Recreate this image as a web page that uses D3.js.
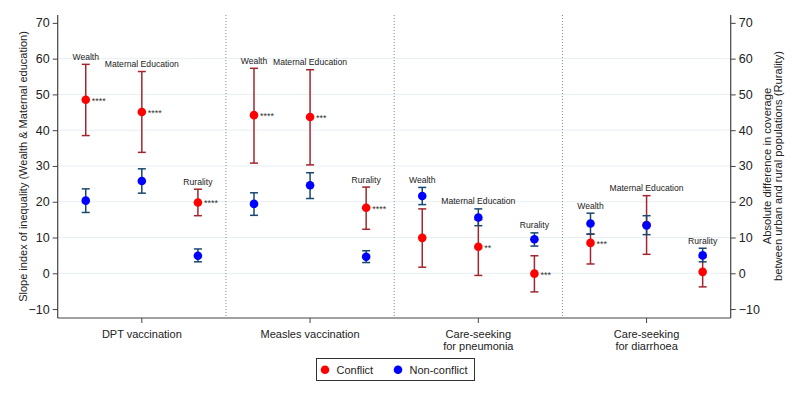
<!DOCTYPE html>
<html><head><meta charset="utf-8">
<script src="https://cdn.jsdelivr.net/npm/d3@7"></script>
<style>body{margin:0;background:#fff}svg{display:block;font-family:"Liberation Sans",Arial,sans-serif}</style>
</head><body><svg id="c" width="800" height="400"></svg>
<script>
const outcomes = ["DPT vaccination","Measles vaccination","Care-seeking\nfor pneumonia","Care-seeking\nfor diarrhoea"];
const dims = ["Wealth","Maternal Education","Rurality"];
// [outcome][dimension] point, lower, upper
const conflictEst = [[48.5,45.1,19.8],[44.2,43.7,18.3],[9.9,7.4,-0.1],[8.5,13.5,0.4]];
const conflictLo  = [[38.5,33.8,16.1],[30.8,30.3,12.3],[1.7,-0.6,-5.2],[2.6,5.3,-3.8]];
const conflictHi  = [[58.4,56.4,23.5],[57.3,56.9,24.1],[18.0,15.0,4.9],[11.0,21.7,4.5]];
const nonEst = [[20.3,25.8,4.9],[19.4,24.6,4.6],[21.6,15.6,9.5],[13.9,13.4,5.0]];
const nonLo  = [[17.0,22.4,3.2],[16.2,20.9,3.0],[19.2,13.3,7.6],[10.9,10.8,3.2]];
const nonHi  = [[23.6,29.2,6.8],[22.5,28.1,6.3],[24.0,18.0,11.3],[16.8,16.1,7.0]];
const stars = [["****","****","****"],["****","***","****"],["","**","***"],["***","",""]];
const yTicks = [-10,0,10,20,30,40,50,60,70];
const legendLabels = ["Conflict","Non-conflict"];

const svg = d3.select("#c");
const L=57.7, R=730.7, T=15, B=318;
const x = d3.scaleBand().domain(outcomes).range([L,R]).padding(0);
const sub = d3.scalePoint().domain(dims).range([1/6,5/6]);
const y = d3.scaleLinear().domain([-12.5,72.2]).range([B,T]);
const px = (o,d)=> x(outcomes[o]) + x.bandwidth()*sub(dims[d]);

// gridlines
svg.append("g").selectAll("line").data(yTicks.filter(v=>v>=0 && v<=60)).join("line")
  .attr("x1",L).attr("x2",R).attr("y1",d=>y(d)).attr("y2",d=>y(d))
  .attr("stroke","#e6eff3").attr("stroke-width",1);
// dividers
svg.append("g").selectAll("line").data(outcomes.slice(1)).join("line")
  .attr("x1",d=>x(d)).attr("x2",d=>x(d)).attr("y1",T).attr("y2",B)
  .attr("stroke","#888").attr("stroke-dasharray","1,2").attr("stroke-width",1);

// axes
const yl = svg.append("g").attr("transform",`translate(${L},0)`).call(d3.axisLeft(y).tickValues(yTicks).tickSize(5).tickPadding(3));
const yr = svg.append("g").attr("transform",`translate(${R},0)`).call(d3.axisRight(y).tickValues(yTicks).tickSize(5).tickPadding(3));
const xa = svg.append("g").attr("transform",`translate(0,${B})`).call(d3.axisBottom(x).tickSize(5).tickFormat(""));
[yl,yr,xa].forEach(g=>{
  g.select(".domain").attr("stroke","#444").attr("stroke-width",1.2);
  g.selectAll(".tick line").attr("stroke","#444");
  g.selectAll("text").attr("font-size",12.5).attr("fill","#222").attr("font-family","Liberation Sans, Arial, sans-serif");
});
yl.select(".domain").attr("d",`M-0,${T}V${B}`);
yr.select(".domain").attr("d",`M0,${T}V${B}`);
xa.select(".domain").attr("d",`M${L},0H${R}`);

// x labels
const xl = svg.append("g");
outcomes.forEach(o=>{
  o.split("\n").forEach((l,i)=>{
    xl.append("text").attr("x",x(o)+x.bandwidth()/2).attr("y",337.7+i*12.5).attr("text-anchor","middle")
      .attr("font-size",11).attr("fill","#222").text(l);
  });
});

// axis titles
svg.append("text").attr("transform",`translate(26.5,166.5) rotate(-90)`).attr("text-anchor","middle")
  .attr("font-size",11).attr("fill","#222").text("Slope index of inequality (Wealth & Maternal education)");
const rt = svg.append("g").attr("transform",`translate(770.5,166) rotate(-90)`);
["Absolute difference in coverage","between urban and rural populations (Rurality)"].forEach((t,i)=>
  rt.append("text").attr("x",0).attr("y",i*11.8).attr("text-anchor","middle").attr("font-size",11.2).attr("fill","#222").text(t));

const series = [
  {est:conflictEst,lo:conflictLo,hi:conflictHi,pt:"#ff0000",ci:"#a3262e"},
  {est:nonEst,lo:nonLo,hi:nonHi,pt:"#0000ff",ci:"#1a476f"}
];
const cap=4, r=4.3;
series.forEach(s=>{
  const g=svg.append("g");
  const data=[];
  s.est.forEach((row,o)=>row.forEach((v,d)=>data.push({o,d,v,lo:s.lo[o][d],hi:s.hi[o][d]})));
  g.selectAll(".v").data(data).join("line").attr("x1",d=>px(d.o,d.d)).attr("x2",d=>px(d.o,d.d))
    .attr("y1",d=>y(d.lo)).attr("y2",d=>y(d.hi)).attr("stroke",s.ci).attr("stroke-width",1.5);
  ["lo","hi"].forEach(k=>g.selectAll(".c"+k).data(data).join("line")
    .attr("x1",d=>px(d.o,d.d)-cap).attr("x2",d=>px(d.o,d.d)+cap)
    .attr("y1",d=>y(d[k])).attr("y2",d=>y(d[k])).attr("stroke",s.ci).attr("stroke-width",1.5));
  g.selectAll("circle").data(data).join("circle").attr("cx",d=>px(d.o,d.d)).attr("cy",d=>y(d.v))
    .attr("r",r).attr("fill",s.pt);
});

// stars
const sd=[];
stars.forEach((row,o)=>row.forEach((s,d)=>{ if(s) sd.push({o,d,s}); }));
svg.append("g").selectAll("text").data(sd).join("text")
  .attr("x",d=>px(d.o,d.d)+6).attr("y",d=>y(conflictEst[d.o][d.d])+4)
  .attr("font-size",9).attr("fill","#333").text(d=>d.s);

// dimension labels above highest CI
const ld=[];
outcomes.forEach((o,oi)=>dims.forEach((dm,di)=>ld.push({oi,di,top:Math.max(conflictHi[oi][di],nonHi[oi][di])})));
svg.append("g").selectAll("text").data(ld).join("text")
  .attr("x",d=>px(d.oi,d.di)).attr("y",d=>y(d.top)-4.5).attr("text-anchor","middle")
  .attr("font-size",8.6).attr("fill","#222").text(d=>dims[d.di]);

// legend
const lg=svg.append("g");
lg.append("rect").attr("x",316.5).attr("y",358.5).attr("width",158).attr("height",22)
  .attr("fill","#fff").attr("stroke","#333").attr("stroke-width",1);
legendLabels.forEach((t,i)=>{
  const cx=[325,398][i];
  lg.append("circle").attr("cx",cx).attr("cy",369.7).attr("r",4.3).attr("fill",series[i].pt);
  lg.append("text").attr("x",cx+11.5).attr("y",373.8).attr("font-size",11).attr("fill","#222").text(t);
});
</script></body></html>
